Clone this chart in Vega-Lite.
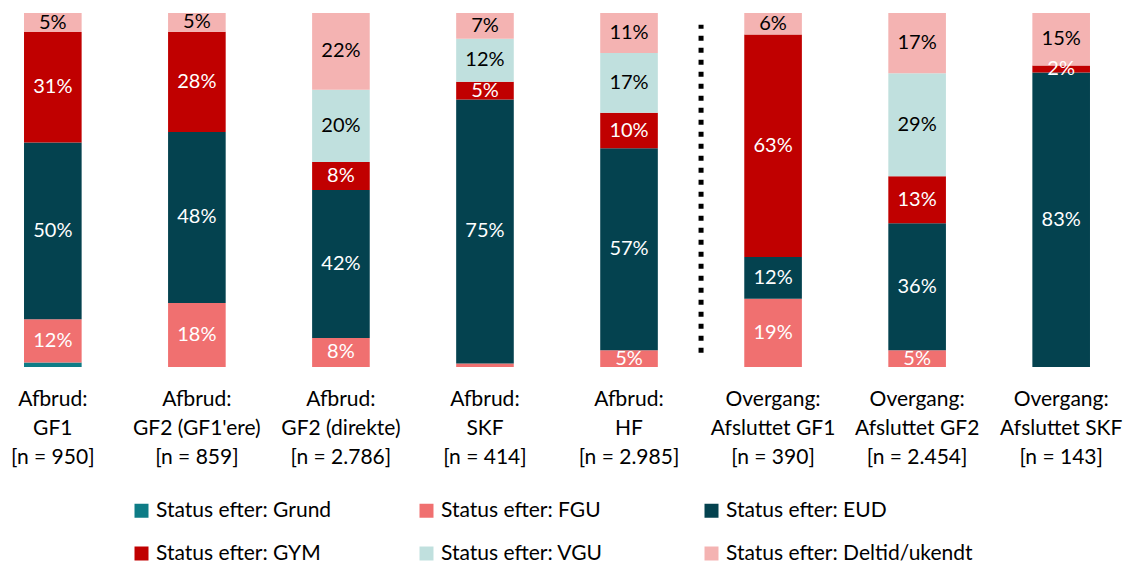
{
  "$schema": "https://vega.github.io/schema/vega-lite/v6.json",
  "width": 1114,
  "height": 354,
  "autosize": {"type": "none"},
  "padding": {"left": 0, "top": 13, "right": 13, "bottom": 197},
  "background": "white",
  "config": {
    "view": {"stroke": null},
    "font": "Lato",
    "legend": {"padding": 0}
  },
  "datasets": {
    "bars": [
      {"cat": "Afbrud:|GF1|[n = 950]", "status": "Status efter: Grund", "v": 0.013},
      {"cat": "Afbrud:|GF1|[n = 950]", "status": "Status efter: FGU", "v": 0.122},
      {"cat": "Afbrud:|GF1|[n = 950]", "status": "Status efter: EUD", "v": 0.499},
      {"cat": "Afbrud:|GF1|[n = 950]", "status": "Status efter: GYM", "v": 0.312},
      {"cat": "Afbrud:|GF1|[n = 950]", "status": "Status efter: Deltid/ukendt", "v": 0.054},
      {"cat": "Afbrud:|GF2 (GF1'ere)|[n = 859]", "status": "Status efter: FGU", "v": 0.181},
      {"cat": "Afbrud:|GF2 (GF1'ere)|[n = 859]", "status": "Status efter: EUD", "v": 0.483},
      {"cat": "Afbrud:|GF2 (GF1'ere)|[n = 859]", "status": "Status efter: GYM", "v": 0.283},
      {"cat": "Afbrud:|GF2 (GF1'ere)|[n = 859]", "status": "Status efter: Deltid/ukendt", "v": 0.053},
      {"cat": "Afbrud:|GF2 (direkte)|[n = 2.786]", "status": "Status efter: FGU", "v": 0.082},
      {"cat": "Afbrud:|GF2 (direkte)|[n = 2.786]", "status": "Status efter: EUD", "v": 0.418},
      {"cat": "Afbrud:|GF2 (direkte)|[n = 2.786]", "status": "Status efter: GYM", "v": 0.079},
      {"cat": "Afbrud:|GF2 (direkte)|[n = 2.786]", "status": "Status efter: VGU", "v": 0.204},
      {"cat": "Afbrud:|GF2 (direkte)|[n = 2.786]", "status": "Status efter: Deltid/ukendt", "v": 0.217},
      {"cat": "Afbrud:|SKF|[n = 414]", "status": "Status efter: FGU", "v": 0.010},
      {"cat": "Afbrud:|SKF|[n = 414]", "status": "Status efter: EUD", "v": 0.746},
      {"cat": "Afbrud:|SKF|[n = 414]", "status": "Status efter: GYM", "v": 0.050},
      {"cat": "Afbrud:|SKF|[n = 414]", "status": "Status efter: VGU", "v": 0.121},
      {"cat": "Afbrud:|SKF|[n = 414]", "status": "Status efter: Deltid/ukendt", "v": 0.073},
      {"cat": "Afbrud:|HF|[n = 2.985]", "status": "Status efter: FGU", "v": 0.047},
      {"cat": "Afbrud:|HF|[n = 2.985]", "status": "Status efter: EUD", "v": 0.571},
      {"cat": "Afbrud:|HF|[n = 2.985]", "status": "Status efter: GYM", "v": 0.100},
      {"cat": "Afbrud:|HF|[n = 2.985]", "status": "Status efter: VGU", "v": 0.169},
      {"cat": "Afbrud:|HF|[n = 2.985]", "status": "Status efter: Deltid/ukendt", "v": 0.113},
      {"cat": "Overgang:|Afsluttet GF1|[n = 390]", "status": "Status efter: FGU", "v": 0.193},
      {"cat": "Overgang:|Afsluttet GF1|[n = 390]", "status": "Status efter: EUD", "v": 0.118},
      {"cat": "Overgang:|Afsluttet GF1|[n = 390]", "status": "Status efter: GYM", "v": 0.628},
      {"cat": "Overgang:|Afsluttet GF1|[n = 390]", "status": "Status efter: Deltid/ukendt", "v": 0.061},
      {"cat": "Overgang:|Afsluttet GF2|[n = 2.454]", "status": "Status efter: FGU", "v": 0.047},
      {"cat": "Overgang:|Afsluttet GF2|[n = 2.454]", "status": "Status efter: EUD", "v": 0.359},
      {"cat": "Overgang:|Afsluttet GF2|[n = 2.454]", "status": "Status efter: GYM", "v": 0.133},
      {"cat": "Overgang:|Afsluttet GF2|[n = 2.454]", "status": "Status efter: VGU", "v": 0.291},
      {"cat": "Overgang:|Afsluttet GF2|[n = 2.454]", "status": "Status efter: Deltid/ukendt", "v": 0.170},
      {"cat": "Overgang:|Afsluttet SKF|[n = 143]", "status": "Status efter: EUD", "v": 0.832},
      {"cat": "Overgang:|Afsluttet SKF|[n = 143]", "status": "Status efter: GYM", "v": 0.020},
      {"cat": "Overgang:|Afsluttet SKF|[n = 143]", "status": "Status efter: Deltid/ukendt", "v": 0.148}
    ],
    "divider": [
      {"cat": "Overgang:|Afsluttet GF1|[n = 390]", "lo": 0.04, "hi": 0.967}
    ]
  },
  "layer": [
    {
      "data": {"name": "bars"},
      "transform": [
        {"calculate": "indexof(['Status efter: Grund','Status efter: FGU','Status efter: EUD','Status efter: GYM','Status efter: VGU','Status efter: Deltid/ukendt'], datum.status)", "as": "ord"},
        {"stack": "v", "groupby": ["cat"], "sort": [{"field": "ord", "order": "ascending"}], "offset": "normalize", "as": ["y0", "y1"]}
      ],
      "mark": {"type": "bar"},
      "encoding": {
        "x": {
          "field": "cat", "type": "nominal", "sort": null,
          "scale": {"paddingInner": 0.6, "paddingOuter": 0.1667},
          "axis": {
            "title": null, "domain": false, "ticks": false, "grid": false,
            "labelAngle": 0, "labelFontSize": 21, "labelColor": "black",
            "labelLineHeight": 29, "labelPadding": 21, "labelLimit": 300,
            "labelExpr": "split(datum.label, '|')"
          }
        },
        "y": {"field": "y0", "type": "quantitative", "scale": {"domain": [0, 1]}, "axis": null},
        "y2": {"field": "y1"},
        "color": {
          "field": "status", "type": "nominal",
          "scale": {
            "domain": ["Status efter: Grund", "Status efter: FGU", "Status efter: EUD", "Status efter: GYM", "Status efter: VGU", "Status efter: Deltid/ukendt"],
            "range": ["#0E7C86", "#F07070", "#04424F", "#C00000", "#C0E0DE", "#F4B3B2"]
          },
          "legend": {
            "title": null, "orient": "none", "legendX": 131, "legendY": 487,
            "direction": "horizontal",
            "columns": 3, "gridAlign": "all", "columnPadding": 13, "rowPadding": 21,
            "symbolType": "square", "symbolSize": 196, "symbolStrokeWidth": 0,
            "labelFontSize": 21, "labelColor": "black", "labelOffset": 4, "labelLimit": 400
          }
        }
      }
    },
    {
      "data": {"name": "bars"},
      "transform": [
        {"calculate": "indexof(['Status efter: Grund','Status efter: FGU','Status efter: EUD','Status efter: GYM','Status efter: VGU','Status efter: Deltid/ukendt'], datum.status)", "as": "ord"},
        {"stack": "v", "groupby": ["cat"], "sort": [{"field": "ord", "order": "ascending"}], "offset": "normalize", "as": ["y0", "y1"]},
        {"calculate": "(datum.y0 + datum.y1) / 2", "as": "ym"},
        {"filter": "datum.v >= 0.015"}
      ],
      "mark": {"type": "text", "fontSize": 20, "baseline": "middle", "align": "center"},
      "encoding": {
        "x": {"field": "cat", "type": "nominal", "sort": null},
        "y": {"field": "ym", "type": "quantitative"},
        "text": {"field": "v", "type": "quantitative", "format": ".0%"},
        "color": {
          "condition": {"test": "datum.status === 'Status efter: VGU' || datum.status === 'Status efter: Deltid/ukendt'", "value": "black"},
          "value": "white"
        }
      }
    },
    {
      "data": {"name": "divider"},
      "mark": {"type": "rule", "color": "black", "strokeWidth": 5, "strokeDash": [5, 7]},
      "encoding": {
        "x": {"field": "cat", "type": "nominal", "sort": null, "bandPosition": -0.75},
        "y": {"field": "lo", "type": "quantitative"},
        "y2": {"field": "hi"}
      }
    }
  ]
}
